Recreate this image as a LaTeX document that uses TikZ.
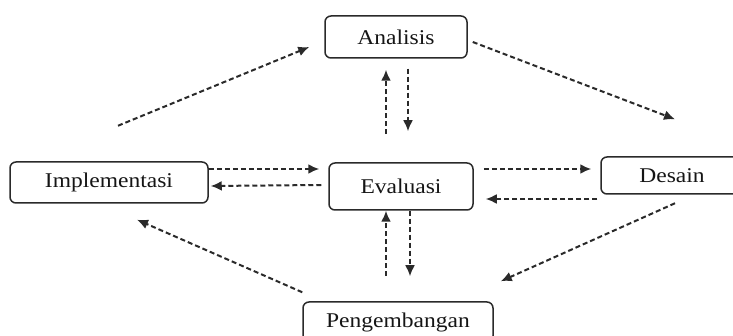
\documentclass[tikz,border=0pt]{standalone}
\usepackage{fontspec}
\setmainfont{Liberation Serif}
\usepackage{tikz}
\usetikzlibrary{arrows.meta, calc}
\definecolor{mdline}{HTML}{2A2A2A}
\definecolor{mdtext}{HTML}{151515}
\newcommand{\stagetext}[1]{\scalebox{1.12}[1]{#1}}

\begin{document}
\begin{tikzpicture}[x={(1pt,0pt)}, y={(0pt,-1pt)}, line join=round,
    stagebox/.style={draw=mdline, line width=1.5pt, rounded corners=6pt,
      inner sep=0pt, text=mdtext, font=\fontsize{21}{24}\selectfont},
    flow/.style={mdline, line width=2pt, dash pattern=on 5pt off 3pt,
      -{Latex[length=11pt,width=10pt]}}]
  \useasboundingbox (0,0) rectangle (733,336);
  % tahapan
  \node[stagebox, minimum width=142pt, minimum height=42pt] (ana) at (396,37) {\stagetext{Analisis}};
  \node[stagebox, minimum width=198pt, minimum height=41pt] (imp) at (109,182.5) {\stagetext{Implementasi}};
  \node[stagebox, minimum width=144pt, minimum height=47pt] (eva) at (401,186.5) {\stagetext{Evaluasi}};
  \node[stagebox, minimum width=142pt, minimum height=37pt] (des) at (672,175.5) {\stagetext{Desain}};
  \node[stagebox, minimum width=190pt, minimum height=40pt] (peng) at (398,322) {\stagetext{Pengembangan}};
  % siklus luar
  \draw[flow] ($(imp.north)+(9,-35.5)$) -- ($(ana.west)+(-15,10)$);
  \draw[flow] ($(ana.east)+(5,5)$) -- ($(des.north)+(3,-37)$);
  \draw[flow] ($(des.south)+(3,8.5)$) -- ($(peng.north east)+(7,-20)$);
  \draw[flow] ($(peng.north west)+(0,-9)$) -- ($(imp.south)+(28,16)$);
  % evaluasi ke tiap tahap
  \draw[flow] ($(eva.north)+(-15,-28)$) -- ($(ana.south)+(-10,11)$);
  \draw[flow] ($(ana.south)+(12,10)$) -- ($(eva.north)+(7,-31)$);
  \draw[flow] ($(imp.east)+(0,-13.5)$) -- ($(eva.west)+(-9,-17.5)$);
  \draw[flow] ($(eva.west)+(-7,-1.5)$) -- ($(imp.east)+(2,3.5)$);
  \draw[flow] ($(eva.east)+(10,-17.5)$) -- ($(des.west)+(-9,-6.5)$);
  \draw[flow] ($(des.west)+(-3,23.5)$) -- ($(eva.east)+(12,12.5)$);
  \draw[flow] ($(peng.north)+(-12,-25)$) -- ($(eva.south)+(-15,0)$);
  \draw[flow] ($(eva.south)+(9,0)$) -- ($(peng.north)+(12,-25)$);
\end{tikzpicture}
\end{document}
